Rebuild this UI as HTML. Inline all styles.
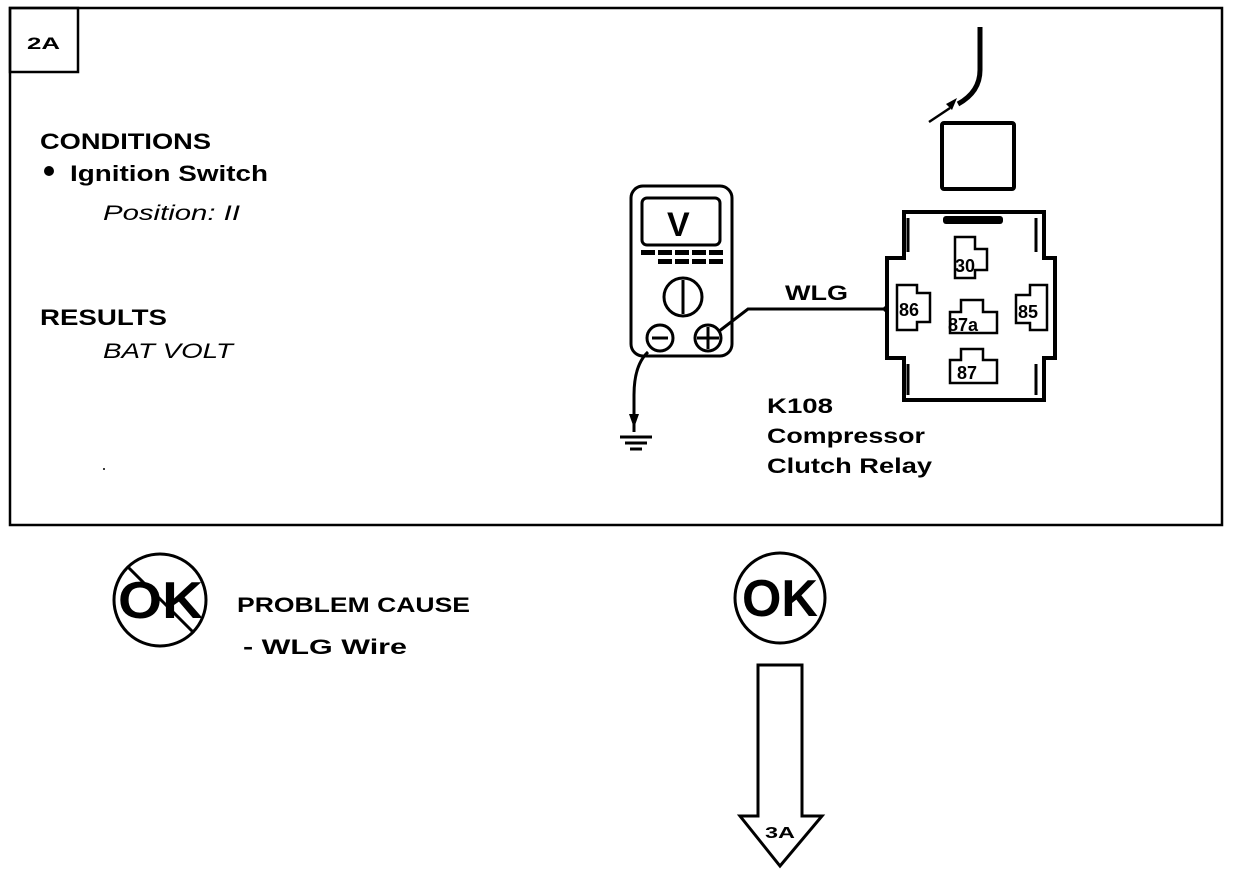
<!DOCTYPE html>
<html><head><meta charset="utf-8"><style>
html,body{margin:0;padding:0;background:#fff;}
svg{display:block;}
text{font-family:"Liberation Sans",Arial,sans-serif;font-weight:bold;fill:#000;}
.it{font-style:italic;font-weight:normal;}
</style></head><body>
<svg width="1248" height="874" viewBox="0 0 1248 874" xmlns="http://www.w3.org/2000/svg">
<g fill="none" stroke="#000" stroke-width="2.5">
<rect x="10" y="8" width="1212" height="517"/>
<rect x="10" y="8" width="68" height="64"/>
</g>
<text x="27" y="49" font-size="17" textLength="33" lengthAdjust="spacingAndGlyphs">2A</text>
<text x="40" y="149" font-size="22" textLength="171" lengthAdjust="spacingAndGlyphs">CONDITIONS</text>
<circle cx="49" cy="171" r="5"/>
<text x="70" y="181" font-size="22" textLength="198" lengthAdjust="spacingAndGlyphs">Ignition Switch</text>
<text x="103" y="220" font-size="21" class="it" textLength="137" lengthAdjust="spacingAndGlyphs">Position: II</text>
<text x="40" y="325" font-size="22" textLength="127" lengthAdjust="spacingAndGlyphs">RESULTS</text>
<text x="103" y="358" font-size="21" class="it" textLength="130" lengthAdjust="spacingAndGlyphs">BAT VOLT</text>
<circle cx="104" cy="469" r="1"/>

<!-- multimeter -->
<g fill="none" stroke="#000" stroke-width="3">
<rect x="631" y="186" width="101" height="170" rx="12"/>
<rect x="642" y="198" width="78" height="47" rx="5"/>
<circle cx="683" cy="297" r="19"/>
<line x1="683" y1="280" x2="683" y2="314"/>
<circle cx="660" cy="338" r="13"/>
<circle cx="708" cy="338" r="13"/>
<line x1="652" y1="338" x2="668" y2="338"/>
<line x1="697" y1="338" x2="719" y2="338"/>
<line x1="708" y1="327" x2="708" y2="349"/>
<path d="M718 332 L748 309 L888 309"/>
<path d="M648 352 Q634 365 634 395 L634 432"/>
<line x1="620" y1="437" x2="652" y2="437"/>
<line x1="625" y1="443" x2="647" y2="443"/>
<line x1="630" y1="449" x2="642" y2="449"/>
</g>
<path d="M629 414 L639 414 L634 428 Z"/>
<text x="667" y="236" font-size="34">V</text>
<g fill="#000">
<rect x="641" y="250" width="14" height="5"/><rect x="658" y="250" width="14" height="5"/><rect x="675" y="250" width="14" height="5"/><rect x="692" y="250" width="14" height="5"/><rect x="709" y="250" width="14" height="5"/>
<rect x="658" y="259" width="14" height="5"/><rect x="675" y="259" width="14" height="5"/><rect x="692" y="259" width="14" height="5"/><rect x="709" y="259" width="14" height="5"/>
</g>
<circle cx="886" cy="309" r="3"/>
<text x="785" y="300" font-size="21" textLength="63" lengthAdjust="spacingAndGlyphs">WLG</text>
<text x="767" y="413" font-size="21" textLength="66" lengthAdjust="spacingAndGlyphs">K108</text>
<text x="767" y="443" font-size="21" textLength="158" lengthAdjust="spacingAndGlyphs">Compressor</text>
<text x="767" y="473" font-size="21" textLength="165" lengthAdjust="spacingAndGlyphs">Clutch Relay</text>

<!-- top wire and square -->
<g fill="none" stroke="#000">
<path d="M980 27 L980 70 Q980 92 958 104" stroke-width="5"/>
<line x1="950" y1="108" x2="929" y2="122" stroke-width="2.5"/>
<rect x="942" y="123" width="72" height="66" stroke-width="4" rx="2"/>
</g>
<path d="M946 104 L957 98 L952 110 Z"/>

<!-- relay -->
<g fill="none" stroke="#000" stroke-width="4">
<path d="M904 212 L1044 212 L1044 258 L1055 258 L1055 358 L1044 358 L1044 400 L904 400 L904 358 L887 358 L887 258 L904 258 Z"/>
<path d="M908 218 L908 252 M1036 218 L1036 252 M908 364 L908 395 M1036 364 L1036 395" stroke-width="3"/>
<path d="M897 285 L917 285 L917 293 L930 293 L930 322 L917 322 L917 330 L897 330 Z" stroke-width="2.5"/>
<path d="M955 237 L975 237 L975 249 L987 249 L987 270 L975 270 L975 278 L955 278 Z" stroke-width="2.5"/>
<path d="M1030 285 L1047 285 L1047 330 L1030 330 L1030 323 L1016 323 L1016 295 L1030 295 Z" stroke-width="2.5"/>
<path d="M961 300 L983 300 L983 312 L997 312 L997 333 L950 333 L950 312 L961 312 Z" stroke-width="2.5"/>
<path d="M961 349 L983 349 L983 360 L997 360 L997 383 L950 383 L950 360 L961 360 Z" stroke-width="2.5"/>
</g>
<rect x="943" y="216" width="60" height="8" rx="3"/>
<text x="955" y="272" font-size="18" font-weight="normal">30</text>
<text x="899" y="316" font-size="18" font-weight="normal">86</text>
<text x="1018" y="318" font-size="18" font-weight="normal">85</text>
<text x="948" y="331" font-size="18" font-weight="normal">87a</text>
<text x="957" y="379" font-size="18" font-weight="normal">87</text>

<!-- bottom -->
<g fill="none" stroke="#000" stroke-width="3">
<circle cx="160" cy="600" r="46"/>
<line x1="128" y1="567" x2="194" y2="633"/>
<circle cx="780" cy="598" r="45"/>
<path d="M758 665 L802 665 L802 816 L822 816 L780 866 L740 816 L758 816 Z"/>
</g>
<text x="118" y="618" font-size="52" textLength="85" lengthAdjust="spacingAndGlyphs">OK</text>
<text x="742" y="616" font-size="52" textLength="76" lengthAdjust="spacingAndGlyphs">OK</text>
<text x="237" y="612" font-size="21" textLength="233" lengthAdjust="spacingAndGlyphs">PROBLEM CAUSE</text>
<text x="243" y="654" font-size="21" textLength="164" lengthAdjust="spacingAndGlyphs">-  WLG  Wire</text>
<text x="765" y="838" font-size="16" textLength="30" lengthAdjust="spacingAndGlyphs">3A</text>
</svg>
</body></html>
